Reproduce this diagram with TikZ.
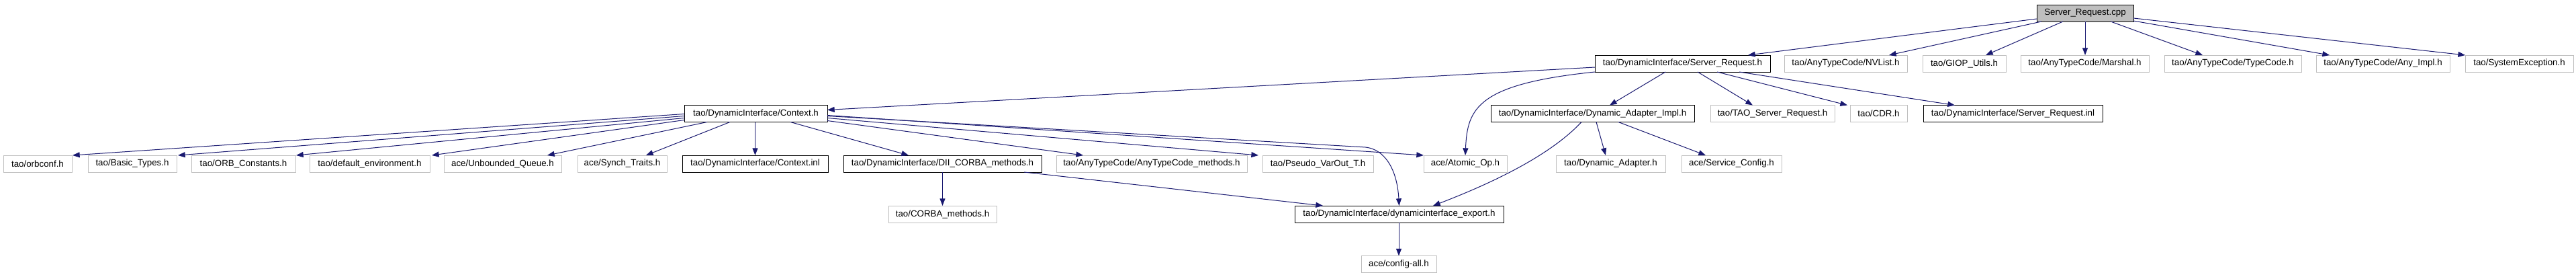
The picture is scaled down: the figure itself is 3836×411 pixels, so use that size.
\documentclass[tikz,border=0pt]{standalone}
\usepackage{fontspec}
\setmainfont{Liberation Sans}
\usetikzlibrary{arrows.meta,calc}
\definecolor{edgeblue}{HTML}{191970}
\definecolor{boxgray}{HTML}{BFBFBF}
\begin{document}
\begin{tikzpicture}[x=0.75pt,y=-0.75pt,
  box/.style={draw, rectangle, line width=0.75pt, inner sep=0pt, outer sep=0pt,
    minimum height=18.75pt, font=\fontsize{10}{12}\selectfont},
  dbox/.style={box, draw=black},
  gbox/.style={box, draw=boxgray},
  rootbox/.style={box, draw=black, fill=boxgray},
  edge/.style={draw=edgeblue, line width=0.75pt, -{Triangle[length=8pt,width=6pt]}, fill=none},
]
\useasboundingbox (0,0) rectangle (3836,411);
% row 0
\node[rootbox, minimum width=108pt] (cpp) at (3105,19.5) {Server\_Request.cpp};
% row 1
\node[dbox, minimum width=195.75pt] (srh) at (2505.5,94.5) {tao/DynamicInterface/Server\_Request.h};
\node[gbox, minimum width=137.25pt] (nvlist) at (2748.5,94.5) {tao/AnyTypeCode/NVList.h};
\node[gbox, minimum width=93pt] (giop) at (2925,94.5) {tao/GIOP\_Utils.h};
\node[gbox, minimum width=143.25pt] (marshal) at (3104.5,94.5) {tao/AnyTypeCode/Marshal.h};
\node[gbox, minimum width=153pt] (typecode) at (3325,94.5) {tao/AnyTypeCode/TypeCode.h};
\node[gbox, minimum width=149.25pt] (anyimpl) at (3548.5,94.5) {tao/AnyTypeCode/Any\_Impl.h};
\node[gbox, minimum width=120.75pt] (sysexc) at (3751.5,94.5) {tao/SystemException.h};
% row 2
\node[dbox, minimum width=159.75pt] (ctx) at (1125.5,169) {tao/DynamicInterface/Context.h};
\node[dbox, minimum width=227.25pt] (dai) at (2371.5,169) {tao/DynamicInterface/Dynamic\_Adapter\_Impl.h};
\node[gbox, minimum width=138.75pt] (tsr) at (2639.5,169) {tao/TAO\_Server\_Request.h};
\node[gbox, minimum width=63.75pt] (cdr) at (2797.5,169) {tao/CDR.h};
\node[dbox, minimum width=200.25pt] (sri) at (2997.5,169) {tao/DynamicInterface/Server\_Request.inl};
% row 3
\node[gbox, minimum width=76.5pt] (orbconf) at (56,243.5) {tao/orbconf.h};
\node[gbox, minimum width=99pt] (basic) at (197,243.5) {tao/Basic\_Types.h};
\node[gbox, minimum width=116.25pt] (orbconst) at (362.5,243.5) {tao/ORB\_Constants.h};
\node[gbox, minimum width=134.25pt] (defenv) at (550.5,243.5) {tao/default\_environment.h};
\node[gbox, minimum width=131.25pt] (unbq) at (748.5,243.5) {ace/Unbounded\_Queue.h};
\node[gbox, minimum width=99.75pt] (synch) at (926.5,243.5) {ace/Synch\_Traits.h};
\node[dbox, minimum width=162.75pt] (cinl) at (1124.5,243.5) {tao/DynamicInterface/Context.inl};
\node[dbox, minimum width=221.25pt] (dii) at (1403.5,243.5) {tao/DynamicInterface/DII\_CORBA\_methods.h};
\node[gbox, minimum width=213pt] (atcm) at (1715,243.5) {tao/AnyTypeCode/AnyTypeCode\_methods.h};
\node[gbox, minimum width=123.75pt] (pseudo) at (1962.5,243.5) {tao/Pseudo\_VarOut\_T.h};
\node[gbox, minimum width=93pt] (atomic) at (2182,243.5) {ace/Atomic\_Op.h};
\node[gbox, minimum width=122.25pt] (dynad) at (2398.5,243.5) {tao/Dynamic\_Adapter.h};
\node[gbox, minimum width=111.75pt] (svccfg) at (2578.5,243.5) {ace/Service\_Config.h};
% row 4
\node[gbox, minimum width=120.75pt] (corbam) at (1403.5,318.5) {tao/CORBA\_methods.h};
\node[dbox, minimum width=233.25pt] (export) at (2083.5,318.5) {tao/DynamicInterface/dynamicinterface\_export.h};
% row 5
\node[gbox, minimum width=84pt] (configall) at (2083,393) {ace/config-all.h};

% edges from Server_Request.cpp
\draw[edge] ($(cpp.south west)+(0,-4)$) -- ($(srh.north west)+(228,0)$);
\draw[edge] ($(cpp.south west)+(7,0)$) -- ($(nvlist.north west)+(156,0)$);
\draw[edge] ($(cpp.south west)+(39,0)$) -- ($(giop.north west)+(94,0)$);
\draw[edge] (cpp.south) -- (cpp.south |- marshal.north);
\draw[edge] ($(cpp.south west)+(110,0)$) -- ($(typecode.north west)+(57,0)$);
\draw[edge] ($(cpp.south east)+(0,-1)$) -- ($(anyimpl.north west)+(20,0)$);
\draw[edge] ($(cpp.south east)+(0,-5)$) -- (sysexc.north west);

% edges from Server_Request.h
\draw[edge] ($(srh.north west)+(0,18)$) -- ($(ctx.north east)+(0,7)$);
\draw[edge] (srh.south west) .. controls ($(srh.south west)+(-175,18)$) and ($(atomic.north)+(3,-70)$) .. (atomic.north);
\draw[edge] ($(srh.south west)+(105,0)$) -- ($(dai.north west)+(177,0)$);
\draw[edge] ($(srh.south west)+(153,0)$) -- ($(tsr.north west)+(63,0)$);
\draw[edge] ($(srh.south west)+(182,0)$) -- ($(cdr.north west)+(-4,0)$);
\draw[edge] ($(srh.south west)+(215,0)$) -- ($(sri.north west)+(47,0)$);

% edges from Context.h
\draw[edge] ($(ctx.south west)+(0,-12)$) -- ($(orbconf.north east)+(1,0)$);
\draw[edge] ($(ctx.south west)+(0,-9)$) -- ($(basic.north east)+(2,0)$);
\draw[edge] ($(ctx.south west)+(0,-6)$) -- ($(orbconst.north east)+(1,0)$);
\draw[edge] ($(ctx.south west)+(0,-3)$) -- ($(defenv.north east)+(3,0)$);
\draw[edge] ($(ctx.south west)+(34,0)$) -- ($(unbq.north west)+(154,0)$);
\draw[edge] ($(ctx.south west)+(68,0)$) -- ($(synch.north west)+(102,0)$);
\draw[edge] (cinl.north |- ctx.south) -- (cinl.north);
\draw[edge] ($(ctx.south west)+(158,0)$) -- ($(dii.north west)+(97,0)$);
\draw[edge] ($(ctx.south east)+(0,-2)$) -- ($(atcm.north west)+(40,0)$);
\draw[edge] ($(ctx.south east)+(0,-6)$) -- ($(pseudo.north west)+(-6,0)$);
\draw[edge] ($(ctx.south east)+(0,-10)$) -- (atomic.north west);
\draw[edge] ($(ctx.south east)+(0,-9)$) -- ($(export.north)+(-50,-87)$)
  .. controls ($(export.north)+(-22,-84)$) and ($(export.north)+(-3,-55)$) .. (export.north);

% edges from DII_CORBA_methods.h
\draw[edge] (dii.south) -- (corbam.north);
\draw[edge] ($(dii.south east)+(-26,0)$) -- ($(export.north west)+(42,0)$);

% edges from Dynamic_Adapter_Impl.h
\draw[edge] ($(dai.south west)+(135,0)$) .. controls ($(dai.south west)+(90,48)$) and ($(export.north west)+(300,-36)$) .. ($(export.north west)+(206,0)$);
\draw[edge] ($(dai.south west)+(157,0)$) -- ($(dynad.north west)+(74,0)$);
\draw[edge] ($(dai.south west)+(190,0)$) -- ($(svccfg.north west)+(36,0)$);

% export -> config-all
\draw[edge] (configall.north |- export.south) -- (configall.north);
\end{tikzpicture}
\end{document}
